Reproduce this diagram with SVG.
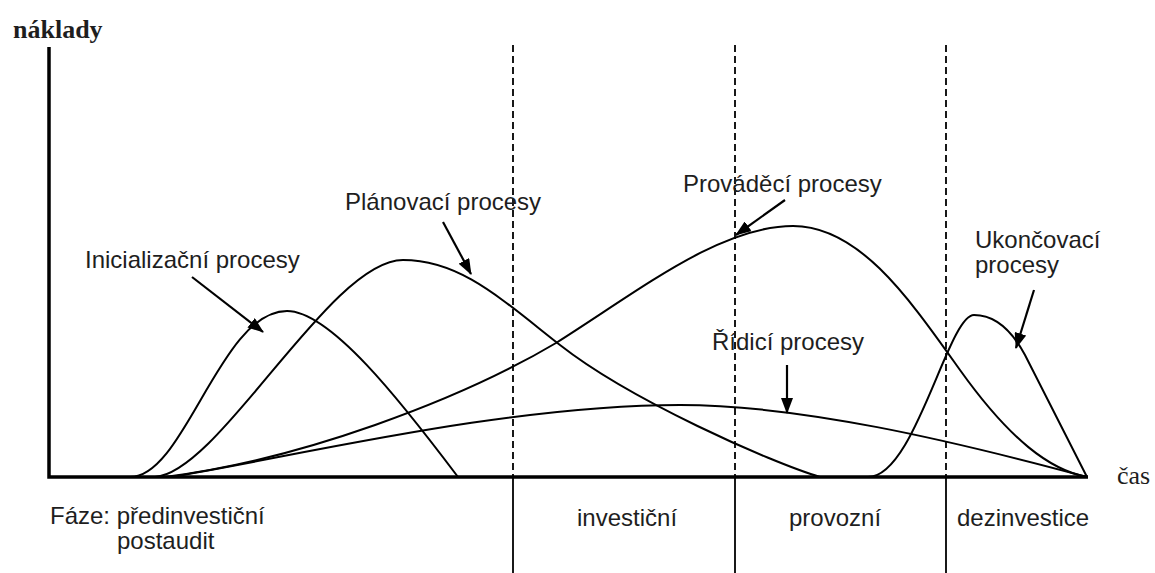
<svg xmlns="http://www.w3.org/2000/svg" width="1155" height="573" viewBox="0 0 1155 573">
  <style>
    .lbl { font-family: "Liberation Sans", Arial, sans-serif; font-size: 24px; fill: #1e1e1e; }
    .axl { font-family: "Liberation Serif", "Times New Roman", serif; font-size: 26px; fill: #1e1e1e; }
    .axis { stroke: #000; stroke-width: 3.5; fill: none; }
    .phase { stroke: #000; stroke-width: 1.8; fill: none; stroke-dasharray: 7 4; }
    .divider { stroke: #000; stroke-width: 1.8; fill: none; }
    .curve { stroke: #000; stroke-width: 2; fill: none; }
    .pointer { stroke: #000; stroke-width: 2.2; fill: none; marker-end: url(#head); }
  </style>
  <defs>
    <marker id="head" markerUnits="userSpaceOnUse" markerWidth="16" markerHeight="12" refX="15" refY="6" orient="auto">
      <path d="M0,0 L16,6 L0,12 z" fill="#000"/>
    </marker>
  </defs>
  <rect width="1155" height="573" fill="#fff"/>

  <!-- axes -->
  <g id="axes">
    <path class="axis" d="M49,47 L49,477 L1088,477"/>
    <text class="axl" x="13" y="38" font-weight="bold" font-size="25">náklady</text>
    <text class="axl" x="1117" y="484">čas</text>
  </g>

  <!-- phase boundaries -->
  <g id="phases">
    <line class="phase" x1="513" y1="45" x2="513" y2="477"/>
    <line class="phase" x1="735" y1="45" x2="735" y2="477"/>
    <line class="phase" x1="946" y1="45" x2="946" y2="477"/>
    <line class="divider" x1="513" y1="477" x2="513" y2="573"/>
    <line class="divider" x1="735" y1="477" x2="735" y2="573"/>
    <line class="divider" x1="946" y1="477" x2="946" y2="573"/>
    <text class="lbl" x="50" y="524">Fáze: předinvestiční</text>
    <text class="lbl" x="117" y="549">postaudit</text>
    <text class="lbl" x="577" y="526">investiční</text>
    <text class="lbl" x="789" y="526">provozní</text>
    <text class="lbl" x="957" y="526">dezinvestice</text>
  </g>

  <!-- process curves -->
  <g id="inicializacni">
    <path class="curve" d="M130,477 C185,477 220,311 287,311 C330,311 400,400 458,477"/>
    <text class="lbl" x="85" y="268">Inicializační procesy</text>
  </g>
  <g id="planovaci">
    <path class="curve" d="M155,477 C220,472 330,260 403,260 C460,260 500,298 560,345 C630,400 770,462 820,477"/>
    <text class="lbl" x="345" y="210">Plánovací procesy</text>
  </g>
  <g id="provadeci">
    <path class="curve" d="M165,477 C300,460 460,400 556,343 C640,290 720,226 793,226 C860,226 910,300 960,370 C1010,440 1050,470 1087,477"/>
    <text class="lbl" x="683" y="192">Prováděcí procesy</text>
  </g>
  <g id="ridici">
    <path class="curve" d="M170,477 C280,460 500,405 680,405 C800,405 950,440 1087,477"/>
    <text class="lbl" x="712" y="350">Řídicí procesy</text>
  </g>
  <g id="ukoncovaci">
    <path class="curve" d="M868,477 C915,477 948,315 974,315 C992,315 1010,327 1025,355 L1087,477"/>
    <text class="lbl" x="975" y="248">Ukončovací</text>
    <text class="lbl" x="975" y="273">procesy</text>
  </g>

  <!-- label pointers -->
  <g id="connectors">
    <line class="pointer" x1="192" y1="277" x2="263" y2="332"/>
    <line class="pointer" x1="443" y1="222" x2="471" y2="274"/>
    <line class="pointer" x1="785" y1="200" x2="736" y2="235"/>
    <line class="pointer" x1="787" y1="365" x2="787" y2="413"/>
    <line class="pointer" x1="1034" y1="290" x2="1016" y2="348"/>
  </g>
</svg>
